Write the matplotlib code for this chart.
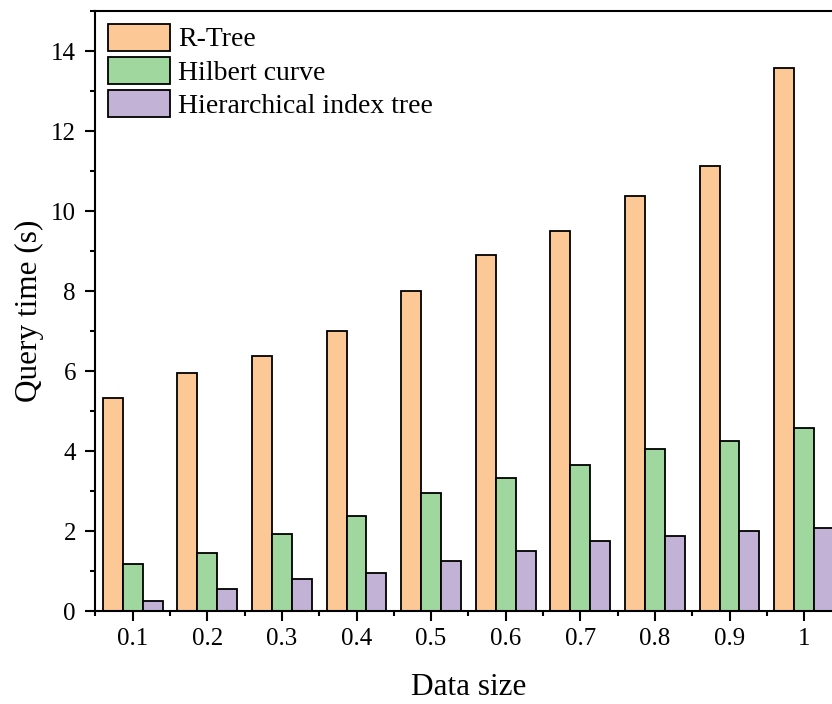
import numpy as np
import matplotlib
matplotlib.use("Agg")
import matplotlib.pyplot as plt
from matplotlib.ticker import MultipleLocator, FixedLocator

plt.rcParams['font.family'] = ['Liberation Serif', 'DejaVu Serif']

data_sizes = ["0.1", "0.2", "0.3", "0.4", "0.5", "0.6", "0.7", "0.8", "0.9", "1"]
rtree = [5.32, 5.95, 6.38, 7.01, 7.99, 8.90, 9.51, 10.37, 11.13, 13.57]
hilbert = [1.17, 1.44, 1.92, 2.37, 2.96, 3.33, 3.66, 4.04, 4.26, 4.58]
hier_tree = [0.26, 0.54, 0.80, 0.94, 1.26, 1.51, 1.75, 1.88, 1.99, 2.08]
series_names = ["R-Tree", "Hilbert curve", "Hierarchical index tree"]
colors = ["#FCC896", "#9FD79E", "#C2B2D6"]

fig = plt.figure(figsize=(8.32, 7.04), dpi=100)
ax = fig.add_axes([95.4 / 832, 93 / 704, 746 / 832, 600 / 704])

x = np.arange(len(data_sizes))
w = 0.268
for i, (vals, name, c) in enumerate(zip([rtree, hilbert, hier_tree], series_names, colors)):
    ax.bar(x + (i - 1) * w, vals, width=w, color=c, edgecolor="black",
           linewidth=1.3, label=name, zorder=2)

ax.set_xlim(-0.5, len(data_sizes) - 0.5)
ax.set_ylim(0, 15)
ax.set_xticks(x)
ax.set_xticklabels(data_sizes)
ax.xaxis.set_minor_locator(FixedLocator(np.arange(-0.5, len(data_sizes), 1.0)))
ax.yaxis.set_major_locator(MultipleLocator(2))
ax.yaxis.set_minor_locator(MultipleLocator(1))

for s in ax.spines.values():
    s.set_linewidth(1.5)
ax.tick_params(axis="both", which="major", direction="out", length=7, width=1.5,
               labelsize=18)
ax.tick_params(axis="x", which="major", pad=5)
ax.tick_params(axis="y", which="major", pad=7)
ax.tick_params(axis="both", which="minor", direction="out", length=3.5, width=1.5)

ax.set_xlabel("Data size", fontsize=22.5, labelpad=17)
ax.set_ylabel("Query time (s)", fontsize=22.5, labelpad=5)

ax.legend(loc="upper left", frameon=False, fontsize=20, handlelength=2.23,
          handleheight=1.12, labelspacing=0.16, handletextpad=0.29,
          borderpad=0.2, borderaxespad=0.25)

fig.savefig("out.png", dpi=100)
